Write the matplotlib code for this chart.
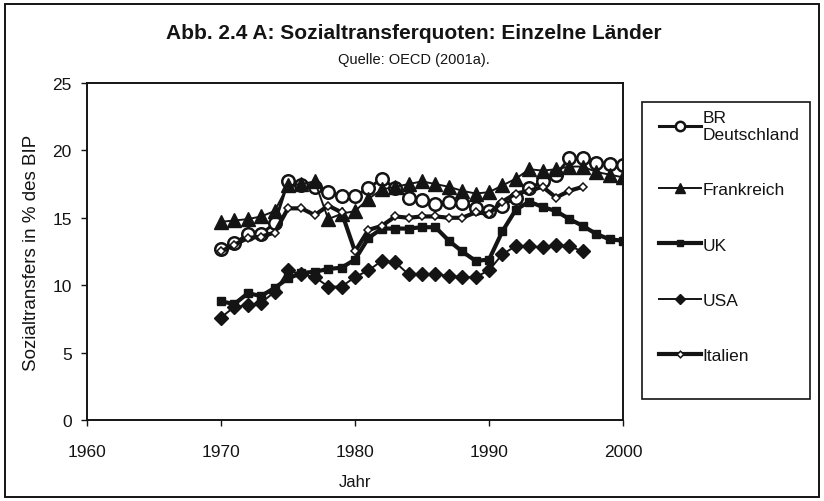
import matplotlib
matplotlib.use("Agg")
import matplotlib.pyplot as plt
from matplotlib.patches import Rectangle

plt.rcParams["font.family"] = ["Liberation Sans", "DejaVu Sans"]

years = list(range(1970, 2001))

# Sozialtransfers in % des BIP
br_deutschland = [12.7, 13.1, 13.8, 13.8, 14.6, 17.7, 17.4, 17.3, 16.9, 16.6,
                  16.6, 17.2, 17.9, 17.2, 16.5, 16.3, 16.0, 16.2, 16.1, 15.7,
                  15.5, 15.9, 16.5, 17.2, 17.7, 18.2, 19.4, 19.4, 19.1, 19.0,
                  18.9]
frankreich = [14.7, 14.8, 14.9, 15.1, 15.5, 17.4, 17.5, 17.7, 14.9, 15.3,
              15.5, 16.4, 17.1, 17.3, 17.5, 17.7, 17.5, 17.3, 17.0, 16.8,
              16.9, 17.4, 17.9, 18.6, 18.5, 18.6, 18.8, 18.8, 18.4, 18.2,
              18.0]
uk = [8.8, 8.6, 9.4, 9.2, 9.8, 10.5, 10.9, 11.0, 11.2, 11.3,
      11.9, 13.5, 14.2, 14.2, 14.2, 14.3, 14.3, 13.3, 12.5, 11.8,
      11.9, 14.0, 15.6, 16.2, 15.8, 15.5, 14.9, 14.4, 13.8, 13.4,
      13.3]
usa = [7.6, 8.4, 8.5, 8.7, 9.5, 11.1, 10.8, 10.6, 9.9, 9.9,
       10.6, 11.1, 11.8, 11.7, 10.8, 10.8, 10.8, 10.7, 10.6, 10.6,
       11.1, 12.3, 12.9, 12.9, 12.8, 13.0, 12.9, 12.5]
italien = [12.5, 13.0, 13.5, 13.6, 13.9, 15.7, 15.7, 15.2, 15.9, 15.4,
           12.5, 14.1, 14.4, 15.1, 15.0, 15.1, 15.1, 15.0, 15.0, 15.4,
           15.3, 16.2, 16.8, 17.0, 17.3, 16.5, 17.0, 17.3]

labels = ["BR\nDeutschland", "Frankreich", "UK", "USA", "Italien"]

ink = "#141414"

fig = plt.figure(figsize=(8.24, 5.02), dpi=100)
fig.patches.append(Rectangle((0.006, 0.008), 0.988, 0.982, transform=fig.transFigure,
                             fill=False, edgecolor=ink, linewidth=1.4))

ax = fig.add_axes([0.1056, 0.1614, 0.6505, 0.6713])

ax.plot(years, br_deutschland, "-o", color=ink, linewidth=2.2, markersize=9,
        markerfacecolor="white", markeredgewidth=1.8, label=labels[0])
ax.plot(years, frankreich, "-^", color=ink, linewidth=1.4, markersize=9.5,
        label=labels[1])
ax.plot(years[:len(uk)], uk, "-s", color=ink, linewidth=3.0, markersize=6,
        label=labels[2])
ax.plot(years[:len(usa)], usa, "-D", color=ink, linewidth=1.4, markersize=7,
        label=labels[3])
ax.plot(years[:len(italien)], italien, "-D", color=ink, linewidth=3.0, markersize=4.5,
        markerfacecolor="white", markeredgewidth=1.1, label=labels[4])

ax.set_xlim(1960, 2000)
ax.set_ylim(0, 25)
ax.set_xticks([1960, 1970, 1980, 1990, 2000])
ax.set_yticks([0, 5, 10, 15, 20, 25])
ax.tick_params(labelsize=12.5, colors=ink, length=4, width=1, direction="out")
ax.tick_params(axis="x", pad=13)
ax.tick_params(axis="y", pad=7)
for s in ax.spines.values():
    s.set_color(ink)
    s.set_linewidth(1.4)

ax.set_ylabel("Sozialtransfers in % des BIP", fontsize=13.5, color=ink, labelpad=9)
ax.set_xlabel("Jahr", fontsize=12, color=ink, labelpad=11)

fig.text(0.502, 0.934, "Abb. 2.4 A: Sozialtransferquoten: Einzelne Länder",
         ha="center", va="center", fontsize=15, fontweight="bold", color=ink)
fig.text(0.502, 0.881, "Quelle: OECD (2001a).", ha="center", va="center",
         fontsize=10.5, color=ink)

# legend box drawn separately so its size matches the scan
fig.patches.append(Rectangle((642 / 824, 1 - 400 / 502), 168 / 824, 297 / 502,
                             transform=fig.transFigure, fill=False,
                             edgecolor=ink, linewidth=1.2))
leg = ax.legend(loc="upper left", bbox_to_anchor=(652 / 824, 1 - 104 / 502),
                bbox_transform=fig.transFigure, frameon=False, fontsize=12.5,
                labelspacing=2.3, handlelength=2.4, handletextpad=0.1,
                borderaxespad=0, markerscale=0.75)
for t in leg.get_texts():
    t.set_color(ink)

fig.savefig("out.png", dpi=100)
